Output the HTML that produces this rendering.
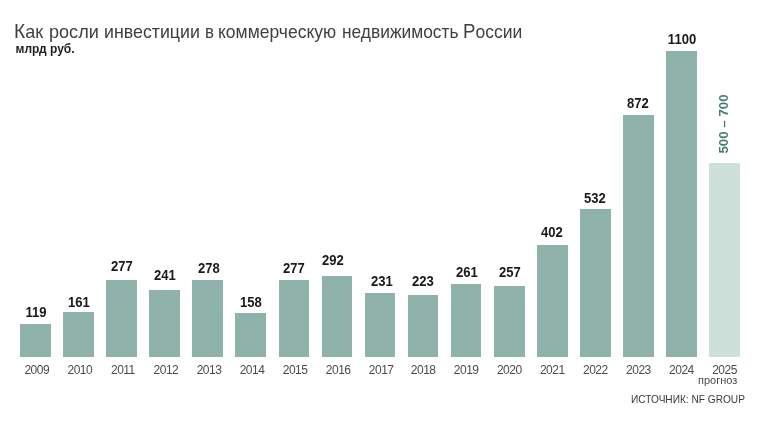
<!DOCTYPE html>
<html lang="ru"><head><meta charset="utf-8"><title>Инвестиции в коммерческую недвижимость России</title>
<style>
html,body{margin:0;padding:0;background:#fff;}
body{width:758px;height:426px;position:relative;overflow:hidden;font-family:"Liberation Sans",Arial,sans-serif;}
.t{position:absolute;left:0;top:21px;width:600px;height:30px;font-size:19px;color:#3f3f3f;white-space:nowrap;line-height:normal;}
.t span{position:absolute;top:0;transform-origin:0 0;}
.t i{font-style:normal;font-size:20.2px;line-height:0;}
.s{position:absolute;left:15.5px;top:42.3px;font-size:12px;font-weight:bold;color:#1e1e1e;white-space:nowrap;}
.b{position:absolute;width:30.8px;background:#8fb3aa;}
.b.f{background:#cde0da;}
.v{position:absolute;width:60px;text-align:center;font-size:14.5px;font-weight:bold;transform:scaleX(0.9);color:#1a1a1a;white-space:nowrap;}
.y{position:absolute;top:363px;width:50.8px;text-align:center;font-size:12px;letter-spacing:-0.5px;color:#4a4a4a;white-space:nowrap;}
.pr{position:absolute;left:698px;top:374px;font-size:11px;color:#4a4a4a;white-space:nowrap;}
.src{position:absolute;left:630.7px;top:392.9px;font-size:10.8px;transform:scaleX(0.9375);transform-origin:0 0;color:#3a3a3a;white-space:nowrap;}
.fc{position:absolute;left:723.2px;top:123.5px;transform:translate(-50%,-50%) rotate(-90deg);font-size:13.3px;font-weight:bold;color:#447c70;white-space:nowrap;}
</style></head><body>
<div class="t"><span style="left:14.40px;transform:scaleX(0.9500)"><i>К</i>ак</span> <span style="left:48.95px;transform:scaleX(0.9520)">росли</span> <span style="left:104.06px;transform:scaleX(0.9360)">инвестиции</span> <span style="left:204.81px;transform:scaleX(0.8875)">в</span> <span style="left:218.28px;transform:scaleX(0.9220)">коммерческую</span> <span style="left:342.09px;transform:scaleX(0.9143)">недвижимость</span> <span style="left:463.46px;transform:scaleX(0.9213)"><i>Р</i>оссии</span></div>
<div class="s">млрд руб.</div>
<div class="b" style="left:20.20px;top:323.94px;height:33.06px"></div><div class="b" style="left:63.25px;top:312.27px;height:44.73px"></div><div class="b" style="left:106.30px;top:280.04px;height:76.96px"></div><div class="b" style="left:149.35px;top:290.05px;height:66.95px"></div><div class="b" style="left:192.40px;top:279.77px;height:77.23px"></div><div class="b" style="left:235.45px;top:313.10px;height:43.90px"></div><div class="b" style="left:278.50px;top:280.04px;height:76.96px"></div><div class="b" style="left:321.55px;top:275.88px;height:81.12px"></div><div class="b" style="left:364.60px;top:292.82px;height:64.18px"></div><div class="b" style="left:407.65px;top:295.05px;height:61.95px"></div><div class="b" style="left:450.70px;top:284.49px;height:72.51px"></div><div class="b" style="left:493.75px;top:285.60px;height:71.40px"></div><div class="b" style="left:536.80px;top:245.32px;height:111.68px"></div><div class="b" style="left:579.85px;top:209.20px;height:147.80px"></div><div class="b" style="left:622.90px;top:114.74px;height:242.26px"></div><div class="b" style="left:665.95px;top:51.40px;height:305.60px"></div><div class="b f" style="left:709.00px;top:162.53px;height:194.47px"></div>
<div class="v" style="left:6.45px;top:303.90px">119</div><div class="v" style="left:49.10px;top:293.60px">161</div><div class="v" style="left:92.25px;top:257.70px">277</div><div class="v" style="left:134.95px;top:266.80px">241</div><div class="v" style="left:179.25px;top:260.10px">278</div><div class="v" style="left:221.45px;top:293.50px">158</div><div class="v" style="left:263.95px;top:260.20px">277</div><div class="v" style="left:302.60px;top:252.30px">292</div><div class="v" style="left:351.85px;top:272.90px">231</div><div class="v" style="left:393.30px;top:272.90px">223</div><div class="v" style="left:436.50px;top:264.30px">261</div><div class="v" style="left:479.50px;top:264.30px">257</div><div class="v" style="left:522.45px;top:223.50px">402</div><div class="v" style="left:565.15px;top:189.70px">532</div><div class="v" style="left:608.30px;top:94.70px">872</div><div class="v" style="left:651.55px;top:31.00px">1100</div>
<div class="y" style="left:11.40px">2009</div><div class="y" style="left:54.45px">2010</div><div class="y" style="left:97.50px">2011</div><div class="y" style="left:140.55px">2012</div><div class="y" style="left:183.60px">2013</div><div class="y" style="left:226.65px">2014</div><div class="y" style="left:269.70px">2015</div><div class="y" style="left:312.75px">2016</div><div class="y" style="left:355.80px">2017</div><div class="y" style="left:397.75px">2018</div><div class="y" style="left:440.80px">2019</div><div class="y" style="left:483.85px">2020</div><div class="y" style="left:526.90px">2021</div><div class="y" style="left:569.95px">2022</div><div class="y" style="left:613.00px">2023</div><div class="y" style="left:656.05px">2024</div><div class="y" style="left:699.10px">2025</div>
<div class="pr">прогноз</div>
<div class="fc">500 – 700</div>
<div class="src">ИСТОЧНИК: NF GROUP</div>
</body></html>
